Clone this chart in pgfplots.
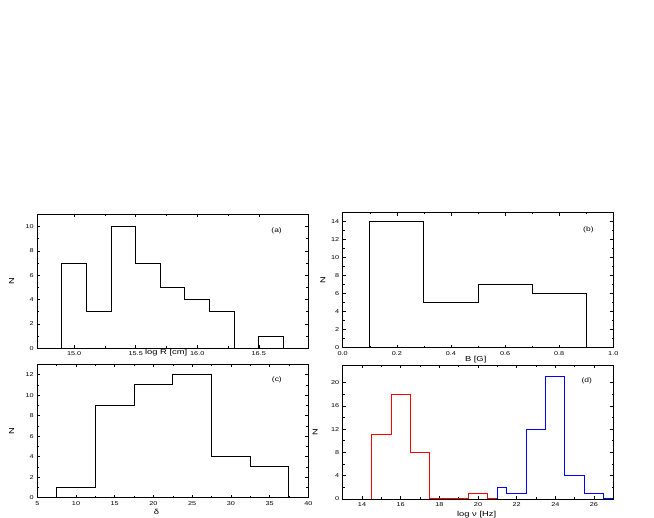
\documentclass[border=0pt]{standalone}
\usepackage{fontspec}
\setmainfont{Liberation Sans}
\newfontfamily\sfs[FakeStretch=1.3]{Liberation Sans}
\usepackage{pgfplots}
\pgfplotsset{compat=1.18}
\pgfplotsset{
  hist/.style={
    scale only axis, anchor=south west,
    axis line style={line width=0.6pt},
    every tick/.style={line width=0.5pt, black},
    major tick length=3pt, minor tick length=1.8pt,
    minor tick num=1,
    tick label style={font=\sfs\fontsize{5.6}{6}\selectfont},
    label style={font=\sfs\fontsize{7.2}{8}\selectfont},
    /pgf/number format/assume math mode=true,
    ylabel={N},
    every axis plot/.append style={line width=1pt, line join=miter},
  },
}
\tikzset{plabel/.style={font=\sfs\fontsize{6.5}{7}\selectfont, anchor=center}}
\begin{document}
\begin{tikzpicture}[x=1pt,y=1pt]
\path[use as bounding box] (0,0) rectangle (654,518);

% (a)
\begin{axis}[hist, at={(37.3pt,169.7pt)}, width=270.7pt, height=134pt,
  xmin=14.7, xmax=16.9, ymin=0, ymax=11,
  xtick={15.0,15.5,16.0,16.5}, ytick={0,2,...,10},
  xticklabel style={/pgf/number format/.cd, fixed, fixed zerofill, precision=1},
  xlabel={log R [cm]},
  xlabel style={at={(axis description cs:0.476,-0.036)}, anchor=center},
  ylabel style={at={(axis description cs:-0.095,0.5)}, anchor=center}]
\addplot[draw=black, const plot] coordinates {(14.9,0) (14.9,7) (15.1,3) (15.3,10) (15.5,7) (15.7,5) (15.9,4) (16.1,3) (16.3,0) (16.5,1) (16.7,0)};
\node[plabel] at (rel axis cs:0.884,0.875) {(a)};
\end{axis}

% (b)
\begin{axis}[hist, at={(342.7pt,170.3pt)}, width=270.6pt, height=135pt,
  xmin=0, xmax=1, ymin=0, ymax=15,
  xtick={0,0.2,...,1.0}, ytick={0,2,...,14},
  xticklabel style={/pgf/number format/.cd, fixed, fixed zerofill, precision=1},
  xlabel={B [G]},
  xlabel style={at={(axis description cs:0.4915,-0.091)}, anchor=center},
  ylabel style={at={(axis description cs:-0.073,0.5)}, anchor=center}]
\addplot[draw=black, const plot] coordinates {(0.1,0) (0.1,14) (0.3,5) (0.5,7) (0.7,6) (0.9,0)};
\node[plabel] at (rel axis cs:0.908,0.872) {(b)};
\end{axis}

% (c)
\begin{axis}[hist, at={(37.3pt,20.3pt)}, width=271pt, height=133.4pt,
  xmin=5, xmax=40, ymin=0, ymax=13,
  xtick={5,10,...,40}, ytick={0,2,...,12},
  xlabel={δ},
  xlabel style={at={(axis description cs:0.44,-0.105)}, anchor=center},
  ylabel style={at={(axis description cs:-0.095,0.5)}, anchor=center}]
\addplot[draw=black, const plot] coordinates {(7.5,0) (7.5,1) (12.5,9) (17.5,11) (22.5,12) (27.5,4) (32.5,3) (37.5,0)};
\node[plabel] at (rel axis cs:0.884,0.882) {(c)};
\end{axis}

% (d)
\begin{axis}[hist, at={(342.7pt,19pt)}, width=270.6pt, height=134pt,
  xmin=13, xmax=27, ymin=0, ymax=23,
  xtick={14,16,...,26}, ytick={0,4,...,20},
  xlabel={log ν [Hz]},
  xlabel style={at={(axis description cs:0.495,-0.119)}, anchor=center},
  ylabel style={at={(axis description cs:-0.102,0.5)}, anchor=center}]
\addplot[color=red, const plot] coordinates {(14.5,0) (14.5,11) (15.5,18) (16.5,8) (17.5,0) (19.5,1) (20.5,0) (21,0)};
\addplot[color=blue, const plot] coordinates {(21,0) (21,2) (21.5,1) (22.5,12) (23.5,21) (24.5,4) (25.5,1) (26.5,0) (27,0)};
\node[plabel] at (rel axis cs:0.902,0.883) {(d)};
\end{axis}
\end{tikzpicture}
\end{document}
